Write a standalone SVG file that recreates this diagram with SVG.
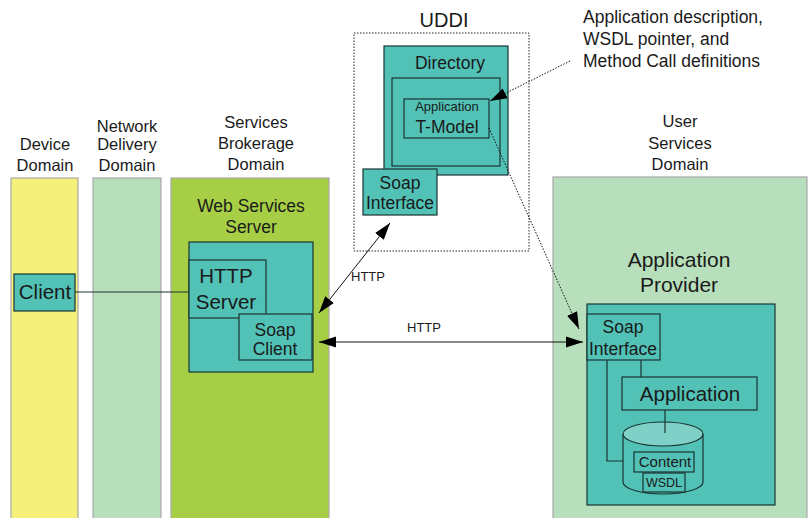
<svg xmlns="http://www.w3.org/2000/svg" width="809" height="518" viewBox="0 0 809 518">
  <style>
    text { font-family: "Liberation Sans", Arial, sans-serif; fill: #1a1a1a; text-anchor: middle; }
    .lbl { font-size: 16.5px; }
    .box { fill: #52c1b6; stroke: #1c3533; stroke-width: 1.2; }
    .col { stroke: #a8a8a8; stroke-width: 1.2; }
    .wire { fill: none; stroke: #1c3533; stroke-width: 1.2; }
    .arrow { fill: none; stroke: #111; stroke-width: 1; }
    .dot { fill: none; stroke: #111; stroke-width: 1; stroke-dasharray: 1.5 1.5; }
  </style>
  <defs>
    <marker id="head" markerUnits="userSpaceOnUse" markerWidth="18" markerHeight="14" viewBox="0 0 18 14" refX="17" refY="7" orient="auto-start-reverse">
      <path d="M0,1.5 L17,7 L0,12.5 Z" fill="#000"/>
    </marker>
  </defs>
  <rect width="809" height="518" fill="#ffffff"/>

  <!-- domain columns -->
  <g id="device-domain">
    <rect class="col" x="11" y="178" width="67" height="345" fill="#f5f07a"/>
    <text class="lbl" x="45" y="150">Device</text>
    <text class="lbl" x="45" y="171">Domain</text>
  </g>
  <g id="network-domain">
    <rect class="col" x="93" y="178" width="68" height="345" fill="#b8dfbb"/>
    <text class="lbl" x="127" y="132">Network</text>
    <text class="lbl" x="127" y="150">Delivery</text>
    <text class="lbl" x="127" y="171">Domain</text>
  </g>
  <g id="brokerage-domain">
    <rect class="col" x="171" y="178" width="158" height="345" fill="#a6cf46"/>
    <text class="lbl" x="256" y="128">Services</text>
    <text class="lbl" x="256" y="149">Brokerage</text>
    <text class="lbl" x="256" y="170">Domain</text>
  </g>
  <g id="user-domain">
    <rect class="col" x="553" y="177" width="254" height="346" fill="#b8dfbb"/>
    <text class="lbl" x="680" y="127">User</text>
    <text class="lbl" x="680" y="149">Services</text>
    <text class="lbl" x="680" y="170">Domain</text>
  </g>

  <!-- device client -->
  <g id="client">
    <rect class="box" x="14" y="274" width="61" height="37"/>
    <text x="45" y="299" style="font-size:20.5px">Client</text>
  </g>

  <!-- web services server -->
  <g id="web-services-server">
    <text x="251" y="212" style="font-size:17.5px">Web Services</text>
    <text x="251" y="233" style="font-size:17.5px">Server</text>
    <rect class="box" x="189" y="242" width="124" height="130"/>
  </g>
  <g id="http-server">
    <rect class="box" x="189" y="260" width="77" height="58"/>
    <text x="226" y="283" style="font-size:20.5px">HTTP</text>
    <text x="226" y="309" style="font-size:20.5px">Server</text>
  </g>
  <g id="soap-client">
    <rect class="box" x="239" y="314" width="73" height="46"/>
    <text x="275" y="336" style="font-size:17.5px">Soap</text>
    <text x="275" y="355" style="font-size:17.5px">Client</text>
  </g>

  <!-- UDDI registry -->
  <g id="uddi">
    <text x="444" y="27" style="font-size:20px">UDDI</text>
    <rect x="354" y="33" width="175" height="218" fill="none" stroke="#222" stroke-width="1" stroke-dasharray="1.5 1.5"/>
  </g>
  <g id="directory">
    <rect class="box" x="384" y="46" width="124" height="129"/>
    <text x="450" y="69" style="font-size:17.5px">Directory</text>
    <rect class="box" x="392" y="78" width="108" height="88"/>
  </g>
  <g id="t-model">
    <rect class="box" x="404" y="99" width="85" height="39"/>
    <text x="447" y="111" style="font-size:13px">Application</text>
    <text x="447" y="133" style="font-size:17.5px">T-Model</text>
  </g>
  <g id="uddi-soap-interface">
    <rect class="box" x="363" y="169" width="74" height="46"/>
    <text x="400" y="189" style="font-size:17.5px">Soap</text>
    <text x="400" y="209" style="font-size:17.5px">Interface</text>
  </g>

  <g id="note">
    <text x="583" y="23" style="font-size:17.5px;text-anchor:start">Application description,</text>
    <text x="583" y="45" style="font-size:17.5px;text-anchor:start">WSDL pointer, and</text>
    <text x="583" y="67" style="font-size:17.5px;text-anchor:start">Method Call definitions</text>
  </g>

  <!-- application provider -->
  <g id="application-provider">
    <text x="679" y="267" style="font-size:21px">Application</text>
    <text x="679" y="292" style="font-size:21px">Provider</text>
    <rect class="box" x="587" y="304" width="188" height="201"/>
  </g>
  <g id="provider-soap-interface">
    <rect class="box" x="587" y="314" width="73" height="46"/>
    <text x="623" y="333" style="font-size:17.5px">Soap</text>
    <text x="623" y="355" style="font-size:17.5px">Interface</text>
  </g>
  <g id="application">
    <rect class="box" x="622" y="377" width="135" height="33"/>
    <text x="690" y="401" style="font-size:20.5px">Application</text>
  </g>
  <g id="content-store">
    <path class="box" d="M623,434 L623,482 A40,12 0 0 0 703,482 L703,434"/>
    <ellipse cx="663" cy="434" rx="40" ry="12" fill="#7fd0c6" stroke="#1c3533" stroke-width="1.2"/>
    <rect class="box" x="634" y="452" width="60" height="20"/>
    <text x="665" y="467" style="font-size:15px">Content</text>
    <rect class="box" x="643" y="473" width="42" height="19"/>
    <text x="664" y="487" style="font-size:12.5px">WSDL</text>
  </g>

  <!-- connectors -->
  <g id="connectors">
    <line class="wire" x1="75" y1="292" x2="189" y2="292"/>
    <path class="wire" d="M607,360 L607,461 L623,461"/>
    <line class="wire" x1="641" y1="360" x2="641" y2="377"/>
    <line class="wire" x1="665" y1="410" x2="665" y2="433"/>
    <line class="arrow" x1="390" y1="223" x2="319" y2="313" marker-start="url(#head)" marker-end="url(#head)"/>
    <text x="368" y="281" style="font-size:13px">HTTP</text>
    <line class="arrow" x1="319" y1="342" x2="583" y2="342" marker-start="url(#head)" marker-end="url(#head)"/>
    <text x="424" y="332" style="font-size:13px">HTTP</text>
    <line class="dot" x1="570" y1="61" x2="490" y2="101" marker-end="url(#head)"/>
    <line class="dot" x1="489" y1="128" x2="579" y2="329" marker-end="url(#head)"/>
  </g>
</svg>
